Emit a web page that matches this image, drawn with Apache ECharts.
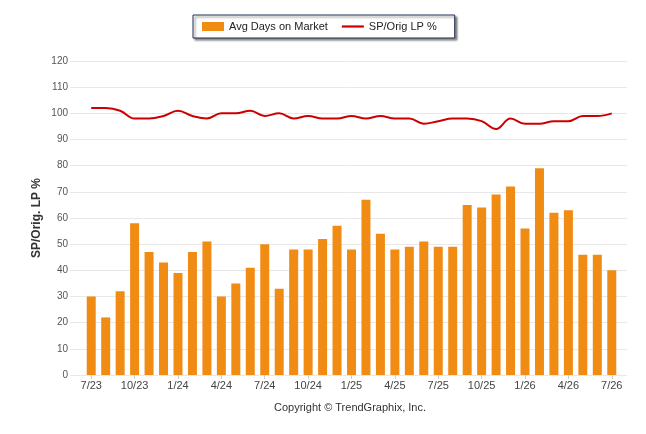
<!DOCTYPE html>
<html>
    <head>
        <meta charset="utf-8">
        <title>days-on-market</title>
        <style>html,body{margin:0;padding:0;background:#fff}#chart{width:646px;height:434px}</style>
    </head>
    <body>
        <div id="chart"></div>
        <script type="text/javascript" src="https://fastly.jsdelivr.net/npm/echarts@6/dist/echarts.min.js"></script>
        <script>
            // monthly categories 7/23 .. 7/26
            const months = ['7/23','8/23','9/23','10/23','11/23','12/23','1/24','2/24','3/24','4/24','5/24','6/24',
                '7/24','8/24','9/24','10/24','11/24','12/24','1/25','2/25','3/25','4/25','5/25','6/25',
                '7/25','8/25','9/25','10/25','11/25','12/25','1/26','2/26','3/26','4/26','5/26','6/26','7/26'];
            const avgDays = [30,22,32,58,47,43,39,47,51,30,35,41,50,33,48,48,52,57,
                48,67,54,48,49,51,49,49,65,64,69,72,56,79,62,63,46,46,40];
            const spOrigLp = [102,102,101,98,98,99,101,99,98,100,100,101,99,100,98,99,98,98,
                99,98,99,98,98,96,97,98,98,97,94,98,96,96,97,97,99,99,100];

            const chart = echarts.init(document.getElementById('chart'));
            const font = 'Liberation Sans, Arial, sans-serif';

            chart.setOption({
                animation: false,
                textStyle: { fontFamily: font },
                legend: {
                    top: 15,
                    left: 193,
                    padding: [6, 18, 6, 9],
                    itemGap: 14,
                    itemWidth: 22,
                    itemHeight: 9,
                    borderColor: '#1f2d52',
                    borderWidth: 1,
                    backgroundColor: '#fff',
                    shadowColor: 'rgba(0,0,0,0.45)',
                    shadowBlur: 2,
                    shadowOffsetX: 2,
                    shadowOffsetY: 2,
                    textStyle: { color: '#222', fontSize: 11, fontFamily: font },
                    data: [
                        { name: 'Avg Days on Market', icon: 'rect' },
                        { name: 'SP/Orig LP %', icon: 'path://M0 0H110V11H0Z' }
                    ]
                },
                grid: [
                    { left: 70, right: 19, top: 61, bottom: 59 },
                    { left: 84, right: 27, top: 61, bottom: 59 }
                ],
                xAxis: [
                    { gridIndex: 0, type: 'value', show: false },
                    {
                        gridIndex: 1,
                        type: 'category',
                        data: months,
                        axisLine: { show: false },
                        axisTick: { show: true, alignWithLabel: true, interval: 2, length: 4, lineStyle: { color: '#ccc' } },
                        axisLabel: { interval: 2, color: '#444', fontSize: 11, margin: 5 }
                    }
                ],
                yAxis: [
                    {
                        gridIndex: 0,
                        type: 'value',
                        min: 0, max: 120, interval: 10,
                        name: 'SP/Orig. LP %',
                        nameLocation: 'middle',
                        nameGap: 27,
                        nameMoveOverlap: false,
                        nameTextStyle: { color: '#333', fontSize: 12, fontWeight: 'bold' },
                        axisLine: { show: false },
                        axisTick: { show: false },
                        axisLabel: { color: '#555', fontSize: 10, margin: 2 },
                        splitLine: { lineStyle: { color: '#e8e8e8' } }
                    },
                    { gridIndex: 1, type: 'value', min: 0, max: 120, show: false, splitLine: { show: false } }
                ],
                graphic: [{
                    type: 'text',
                    left: 274,
                    top: 402,
                    style: { text: 'Copyright \u00A9 TrendGraphix, Inc.', fill: '#333', font: '11px ' + font }
                }],
                series: [
                    {
                        name: 'Avg Days on Market',
                        type: 'bar',
                        xAxisIndex: 1, yAxisIndex: 1,
                        barWidth: 9,
                        itemStyle: { color: '#f08c14' },
                        data: avgDays
                    },
                    {
                        name: 'SP/Orig LP %',
                        type: 'line',
                        xAxisIndex: 1, yAxisIndex: 1,
                        smooth: 0.4,
                        showSymbol: false,
                        itemStyle: { color: '#cc0000' },
                        lineStyle: { color: '#cc0000', width: 2 },
                        data: spOrigLp
                    }
                ]
            });
        </script>
    </body>
</html>
